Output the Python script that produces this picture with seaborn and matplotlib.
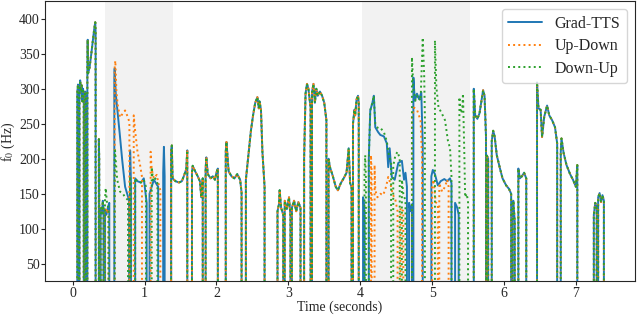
import numpy as np
import pandas as pd
import matplotlib
matplotlib.use("Agg")
import matplotlib.pyplot as plt
import seaborn as sns

sns.set_style("ticks")
plt.rcParams["font.family"] = "serif"
plt.rcParams["font.serif"] = ["Liberation Serif", "DejaVu Serif"]
plt.rcParams["mathtext.fontset"] = "stix"

# f0 contours: voiced segments as (time [s], f0 [Hz]); unvoiced frames are 0
common_start = [
    [(0.065, 295), (0.075, 306), (0.085, 288)],
    [(0.095, 285), (0.105, 312), (0.115, 296), (0.125, 305), (0.135, 282), (0.145, 300), (0.155, 288)],
    [(0.165, 278), (0.175, 296), (0.185, 285)],
    [(0.205, 330), (0.21, 370), (0.215, 322), (0.235, 330), (0.26, 350), (0.285, 372), (0.3, 385), (0.315, 395), (0.32, 380)],
    [(0.365, 228), (0.37, 200)],
    [(0.39, 118), (0.4, 130), (0.41, 122), (0.42, 140), (0.43, 125)],
]

gradtts_shade1 = [
    [(0.45, 128), (0.47, 120), (0.49, 130), (0.51, 137)],
    [(0.58, 315), (0.585, 329), (0.6, 293), (0.655, 236), (0.69, 198), (0.73, 160), (0.785, 141)],
    [(0.8, 212), (0.81, 165)],
    [(0.87, 172), (0.9, 168), (0.95, 166), (0.99, 172), (1.03, 137)],
    [(1.07, 150), (1.1, 160), (1.13, 170), (1.16, 165), (1.19, 160)],
    [(1.26, 180), (1.27, 217), (1.28, 175)],
]
updown_shade1 = [
    [(0.45, 120), (0.46, 130), (0.48, 122), (0.5, 128)],
    [(0.585, 330), (0.594, 340), (0.61, 295), (0.63, 275), (0.66, 259), (0.7, 265), (0.73, 269), (0.77, 259), (0.79, 252)],
    [(0.85, 262), (0.87, 240), (0.9, 212), (0.94, 190), (0.965, 174)],
    [(1.085, 210), (1.1, 185), (1.13, 172), (1.17, 177), (1.2, 162), (1.22, 155)],
]
downup_shade1 = [
    [(0.45, 140), (0.46, 158), (0.48, 135), (0.5, 130)],
    [(0.585, 200), (0.59, 212), (0.62, 170), (0.66, 153), (0.7, 150), (0.73, 145), (0.77, 141)],
    [(0.8, 175), (0.81, 150)],
    [(0.87, 172), (0.9, 168), (0.95, 166), (0.99, 170), (1.02, 160)],
    [(1.1, 188), (1.12, 168), (1.15, 172), (1.18, 165)],
]

common_middle = [
    [(1.37, 210), (1.38, 219), (1.39, 172), (1.43, 168), (1.48, 166), (1.52, 168), (1.55, 176), (1.58, 185), (1.595, 212)],
    [(1.66, 180), (1.67, 190), (1.7, 183), (1.74, 175), (1.77, 168), (1.79, 145), (1.8, 160), (1.81, 172)],
    [(1.85, 185), (1.86, 202), (1.88, 178), (1.92, 172), (1.95, 175), (1.98, 170), (2.0, 180), (2.02, 186)],
    [(2.13, 210), (2.14, 224), (2.17, 182), (2.21, 175), (2.25, 172), (2.29, 178), (2.33, 170), (2.35, 152)],
    [(2.41, 170), (2.44, 200), (2.48, 240), (2.51, 262), (2.54, 280), (2.57, 288), (2.59, 272), (2.6, 282), (2.62, 270), (2.64, 210), (2.67, 160)],
    [(2.85, 125), (2.87, 135), (2.88, 155), (2.9, 130), (2.93, 120)],
    [(2.95, 140), (2.98, 128), (3.01, 145), (3.03, 118)],
    [(3.05, 130), (3.08, 140), (3.11, 125), (3.14, 138), (3.17, 130)],
    [(3.22, 200), (3.24, 293), (3.26, 307), (3.28, 300), (3.31, 273)],
    [(3.33, 295), (3.35, 307), (3.37, 280), (3.39, 300), (3.41, 290), (3.44, 296), (3.47, 290), (3.5, 280), (3.53, 255)],
    [(3.56, 200), (3.58, 188), (3.62, 175), (3.66, 160), (3.69, 155), (3.73, 165), (3.77, 172), (3.81, 180), (3.84, 215), (3.86, 165), (3.88, 160)],
    [(3.9, 250), (3.92, 270), (3.93, 262), (3.95, 285), (3.97, 290), (3.98, 280)],
]

gradtts_shade2 = [
    [(4.04, 145), (4.05, 140), (4.06, 120)],
    [(4.12, 200), (4.14, 269), (4.17, 280), (4.19, 290), (4.21, 245), (4.25, 238), (4.28, 234), (4.33, 232), (4.37, 222),
     (4.39, 188), (4.41, 215), (4.44, 174), (4.48, 170), (4.53, 194), (4.58, 197), (4.61, 170), (4.63, 180), (4.65, 160)],
    [(4.68, 137), (4.7, 125), (4.72, 135)],
    [(4.74, 316), (4.76, 283), (4.79, 293), (4.82, 285), (4.85, 295), (4.87, 220)],
    [(4.99, 175), (5.01, 184), (5.04, 178), (5.08, 162), (5.12, 168), (5.17, 171), (5.21, 168), (5.25, 172), (5.27, 165)],
    [(5.32, 137), (5.35, 130), (5.37, 120)],
]
updown_shade2 = [
    [(4.15, 205), (4.16, 180)],
    [(4.2, 191), (4.21, 155), (4.24, 145), (4.28, 150), (4.32, 148), (4.36, 160), (4.39, 174), (4.42, 165), (4.45, 150), (4.49, 141), (4.52, 125)],
    [(4.56, 130), (4.6, 125)],
    [(4.72, 260), (4.75, 273), (4.79, 270), (4.84, 255), (4.86, 200)],
    [(5.0, 160), (5.02, 170), (5.05, 138), (5.08, 135)],
    [(5.1, 165), (5.14, 153), (5.18, 160), (5.21, 170), (5.23, 160)],
]
downup_shade2 = [
    [(4.06, 180), (4.07, 205), (4.08, 170)],
    [(4.12, 200), (4.14, 269), (4.17, 280), (4.19, 290), (4.21, 250), (4.25, 243), (4.29, 243), (4.33, 238), (4.37, 225), (4.4, 205), (4.43, 195)],
    [(4.46, 190), (4.49, 205), (4.52, 210), (4.55, 200)],
    [(4.58, 170), (4.6, 150), (4.63, 140)],
    [(4.72, 345), (4.74, 300), (4.77, 283), (4.8, 290), (4.84, 283), (4.87, 373), (4.89, 320), (4.9, 260)],
    [(5.04, 369), (5.06, 302), (5.09, 273), (5.13, 266), (5.18, 255), (5.22, 226), (5.25, 215), (5.27, 174)],
    [(5.38, 288), (5.4, 265), (5.42, 270), (5.43, 293), (5.45, 200), (5.46, 145), (5.48, 150), (5.5, 140)],
]

common_end = [
    [(5.58, 300), (5.6, 262), (5.63, 257), (5.66, 265), (5.69, 285), (5.71, 298), (5.73, 290), (5.75, 232)],
    [(5.76, 205), (5.78, 200)],
    [(5.83, 225), (5.85, 240), (5.87, 232), (5.9, 205), (5.94, 188), (5.98, 172), (6.03, 162), (6.07, 157), (6.1, 150)],
    [(6.12, 120), (6.13, 140), (6.15, 110)],
    [(6.2, 186), (6.22, 172), (6.25, 175), (6.28, 180), (6.31, 172)],
    [(6.46, 309), (6.48, 272), (6.51, 270), (6.53, 231), (6.56, 260), (6.6, 276), (6.63, 262), (6.67, 255), (6.71, 245), (6.74, 222)],
    [(6.79, 210), (6.8, 229), (6.83, 208), (6.87, 191), (6.92, 178), (6.96, 170), (7.0, 160), (7.02, 191)],
    [(7.25, 120), (7.27, 137), (7.29, 130)],
    [(7.31, 145), (7.33, 151), (7.35, 138), (7.37, 148), (7.39, 140)],
]

shaded_regions = [(0.455, 1.395), (4.03, 5.525)]

models = ["Grad-TTS", "Up-Down", "Down-Up"]
colors = ["tab:blue", "tab:orange", "tab:green"]
linestyles = ["-", ":", ":"]


def to_frames(segments, name):
    # each voiced segment is bounded by unvoiced (0 Hz) frames
    rows = []
    for seg in segments:
        rows.append((seg[0][0], 0.0))
        rows.extend(seg)
        rows.append((seg[-1][0], 0.0))
    df = pd.DataFrame(rows, columns=["time", "f0"])
    df["model"] = name
    return df


series = {
    "Grad-TTS": common_start + gradtts_shade1 + common_middle + gradtts_shade2 + common_end,
    "Up-Down": common_start + updown_shade1 + common_middle + updown_shade2 + common_end,
    "Down-Up": common_start + downup_shade1 + common_middle + downup_shade2 + common_end,
}

fig, ax = plt.subplots(figsize=(6.38, 3.16), dpi=100)
fig.subplots_adjust(left=0.071, right=0.995, top=0.996, bottom=0.110)

for start, end in shaded_regions:
    ax.axvspan(start, end, color="gray", alpha=0.1, lw=0)

for name, c, ls in zip(models, colors, linestyles):
    df = to_frames(series[name], name)
    sns.lineplot(data=df, x="time", y="f0", sort=False, estimator=None,
                 color=c, linestyle=ls, lw=1.4, label=name, ax=ax)

ax.set_xlim(-0.38, 7.82)
ax.set_ylim(25, 425)
ax.set_xticks(range(0, 8))
ax.set_yticks(range(50, 401, 50))
ax.tick_params(labelsize=10, length=3, pad=1)
ax.set_xlabel("Time (seconds)", fontsize=10, labelpad=0.5)
ax.set_ylabel(r"f$_0$ (Hz)", fontsize=10, labelpad=1.5)
ax.legend(loc="upper right", fontsize=11.5, frameon=True, handlelength=2.1, labelspacing=0.42)

plt.savefig("out.png", dpi=100)
